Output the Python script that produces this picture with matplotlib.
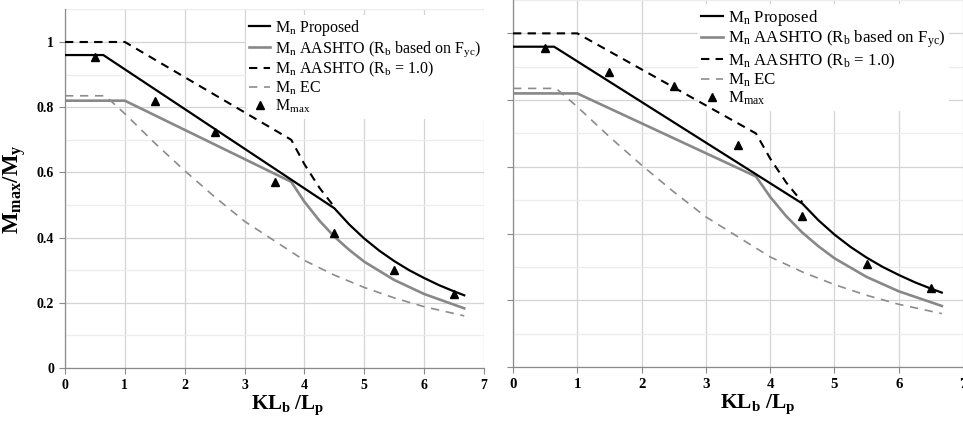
import matplotlib
matplotlib.use("Agg")
import matplotlib.pyplot as plt
from matplotlib.ticker import MultipleLocator

plt.rcParams['font.family'] = ['Liberation Serif', 'DejaVu Serif']
plt.rcParams['mathtext.fontset'] = 'custom'
plt.rcParams['mathtext.rm'] = 'Liberation Serif'
plt.rcParams['mathtext.it'] = 'Liberation Serif:italic'
plt.rcParams['mathtext.bf'] = 'Liberation Serif:bold'

# design curves (same in both panels)
kl_prop = [0, 0.64, 4.5, 4.75, 5.0, 5.25, 5.5, 5.75, 6.0, 6.25, 6.5, 6.67]
mn_prop = [0.96, 0.96, 0.49, 0.44, 0.397, 0.36, 0.328, 0.30, 0.276, 0.254, 0.235, 0.223]

kl_aashto = [0, 1.0, 3.78, 4.0, 4.25, 4.5, 4.75, 5.0, 5.5, 6.0, 6.67]
mn_aashto = [0.82, 0.82, 0.571, 0.51, 0.452, 0.403, 0.362, 0.326, 0.27, 0.227, 0.183]

kl_rb1 = [0, 1.0, 3.78, 4.0, 4.25, 4.5]
mn_rb1 = [1.0, 1.0, 0.70, 0.625, 0.553, 0.494]

kl_ec = [0, 0.67, 1.0, 1.5, 2.0, 2.5, 3.0, 3.5, 4.0, 4.5, 5.0, 5.5, 6.0, 6.67]
mn_ec = [0.835, 0.835, 0.78, 0.69, 0.605, 0.525, 0.45, 0.39, 0.33, 0.285, 0.247, 0.215, 0.188, 0.16]

# test results
kl_max_left = [0.5, 1.5, 2.5, 3.5, 4.5, 5.5, 6.5]
m_max_left = [0.955, 0.82, 0.725, 0.571, 0.413, 0.30, 0.226]
kl_max_right = [0.5, 1.5, 2.5, 3.5, 4.5, 5.5, 6.5]
m_max_right = [0.955, 0.885, 0.842, 0.665, 0.453, 0.308, 0.238]

labels = [r'M$_\mathrm{n}$ Proposed',
          r'M$_\mathrm{n}$ AASHTO (R$_\mathrm{b}$ based on F$_\mathrm{yc}$)',
          r'M$_\mathrm{n}$ AASHTO (R$_\mathrm{b}$ = 1.0)',
          r'M$_\mathrm{n}$ EC',
          r'M$_\mathrm{max}$']

fig = plt.figure(figsize=(9.63, 4.23), dpi=100)
W, H = 963, 423


def panel(rect, kl_max, m_max, fs, leg_anchor, show_ylab):
    ax = fig.add_axes(rect)
    ax.set_xlim(0, 7)
    ax.set_ylim(0, 1.1)
    ax.xaxis.set_major_locator(MultipleLocator(1))
    ax.yaxis.set_major_locator(MultipleLocator(0.2))
    ax.yaxis.set_minor_locator(MultipleLocator(0.1))
    ax.grid(True, which='major', color='#d4d4d4', lw=0.9, zorder=0)
    ax.grid(True, which='minor', axis='y', color='#ececec', lw=0.9, zorder=0)
    ax.set_axisbelow(True)
    for s in ['top', 'right']:
        ax.spines[s].set_visible(False)
    for s in ['left', 'bottom']:
        ax.spines[s].set_color('#8a8a8a')
        ax.spines[s].set_linewidth(0.9)
    ax.tick_params(which='major', length=4, color='#8a8a8a', width=0.8,
                   labelsize=fs - 1.5, pad=4)
    ax.tick_params(which='minor', length=0)
    ax.set_xticks(range(8))
    ax.set_xticklabels([str(i) for i in range(8)], fontweight='bold')
    if show_ylab:
        ax.set_yticks([0, 0.2, 0.4, 0.6, 0.8, 1.0])
        ax.set_yticklabels(['0', '0.2', '0.4', '0.6', '0.8', '1'], fontweight='bold')
    else:
        ax.set_yticklabels([])

    ax.plot(kl_prop, mn_prop, color='black', lw=1.6, zorder=4, label=labels[0])
    ax.plot(kl_aashto, mn_aashto, color='#888888', lw=1.9, zorder=3, label=labels[1])
    ax.plot(kl_rb1, mn_rb1, color='black', lw=1.5, dashes=(4, 3), zorder=3, label=labels[2])
    ax.plot(kl_ec, mn_ec, color='#8c8c8c', lw=1.2, dashes=(5, 4), zorder=3, label=labels[3])
    ax.plot(kl_max, m_max, ls='none', marker='^', ms=5.5, color='black', zorder=5, label=labels[4])

    leg = ax.legend(loc='upper left', bbox_to_anchor=leg_anchor, fontsize=fs,
                    frameon=True, framealpha=1, edgecolor='none', facecolor='white',
                    fancybox=False, borderpad=0.2, borderaxespad=0,
                    handlelength=1.3, handletextpad=0.3, labelspacing=0.06)
    leg.set_zorder(2)
    return ax


ax1 = panel([65 / W, (H - 368) / H, (484 - 65) / W, (368 - 9.4) / H],
            kl_max_left, m_max_left, 11.5, (0.432, 0.985), True)
ax1.set_xlabel(r'$\mathbf{KL_b\ /L_p}$', fontsize=15)
ax1.xaxis.set_label_coords((288 - 65) / 419, -0.07)
ax1.set_ylabel(r'$\mathbf{M_{max}/M_y}$', fontsize=16.5)
ax1.yaxis.set_label_coords(-0.088, 0.5)

ax2 = panel([513 / W, (H - 367) / H, (963 - 513) / W, 367 / H],
            kl_max_right, m_max_right, 12.2, (0.41, 0.988), False)
ax2.set_xlabel(r'$\mathbf{KL_b\ /L_p}$', fontsize=15.5)
ax2.xaxis.set_label_coords((758 - 513) / 450, -0.07)

fig.savefig('out.png', dpi=100)
